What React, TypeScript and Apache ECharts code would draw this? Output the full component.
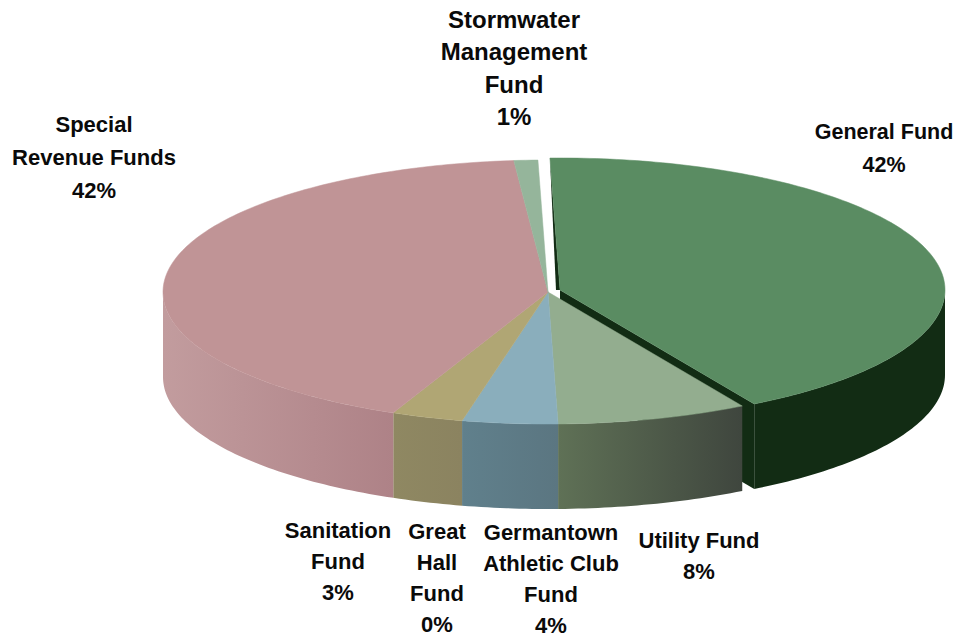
import React, { useEffect, useRef } from "react";
import * as echarts from "echarts";

// Budget share of each fund, clockwise from twelve o'clock.
const fundNames = [
  "General Fund",
  "Utility Fund",
  "Germantown Athletic Club Fund",
  "Sanitation Fund",
  "Great Hall Fund",
  "Special Revenue Funds",
  "Stormwater Management Fund",
];
const fundShares = [42, 8, 4, 3, 0, 42, 1];
const labelLines = [
  ["General Fund"],
  ["Utility Fund"],
  ["Germantown", "Athletic Club", "Fund"],
  ["Sanitation", "Fund"],
  ["Great", "Hall", "Fund"],
  ["Special", "Revenue Funds"],
  ["Stormwater", "Management", "Fund"],
];
const topColors = ["#5a8c62", "#93ad8f", "#8aaebc", "#b0a674", "#b0a674", "#c09496", "#95b59b"];
const wallFrom = ["#122c14", "#5f7156", "#60808c", "#8f8862", "#8f8862", "#c29c9e", "#95b59b"];
const wallTo = ["#122c14", "#3f463e", "#5b7681", "#8b8360", "#8b8360", "#ae8287", "#95b59b"];
// Centre of each label block, its line step and its font size.
const labelLayout = [
  [884, 148, 33, 21.5],
  [699, 556, 31, 22],
  [551, 579, 31, 22],
  [338, 561, 31, 22],
  [437, 578, 31, 22],
  [94, 157, 33, 22],
  [514, 68, 32.5, 24],
];

const CX = 548;
const CY = 292;
const RX = 385;
const RY = 132;
const DEPTH = 85;
const START_ANGLE = -1.5;
const EXPLODE_X = 12;
const EXPLODE_Y = -2;

const rim = (deg: number, ox: number, oy: number): number[] => {
  const t = (deg * Math.PI) / 180;
  return [CX + ox + RX * Math.sin(t), CY + oy - RY * Math.cos(t)];
};

const arc = (from: number, to: number, ox: number, oy: number): number[][] => {
  const steps = Math.max(2, Math.ceil(Math.abs(to - from)));
  const pts: number[][] = [];
  for (let i = 0; i <= steps; i++) pts.push(rim(from + ((to - from) * i) / steps, ox, oy));
  return pts;
};

const rows = fundShares.map((share, i) => [
  fundShares.slice(0, i).reduce((a, b) => a + b, 0),
  share,
]);

const renderSlice = (params: any, api: any) => {
  const i = params.dataIndex;
  const startDeg = START_ANGLE + (api.value(0) * 360) / 100;
  const endDeg = startDeg + (api.value(1) * 360) / 100;
  const ox = i === 0 ? EXPLODE_X : 0;
  const oy = i === 0 ? EXPLODE_Y : 0;
  const children: any[] = [];

  if (api.value(1) > 0) {
    // The visible side wall is the front half of the rim.
    const a = Math.max(startDeg, 90);
    const b = Math.min(endDeg, 270);
    if (b > a) {
      const front = arc(a, b, ox, oy);
      const back = front.map((p) => [p[0], p[1] + DEPTH]).reverse();
      const xs = front.map((p) => p[0]);
      children.push({
        type: "polygon",
        shape: { points: [...front, ...back] },
        style: {
          fill: new echarts.graphic.LinearGradient(
            Math.min(...xs), 0, Math.max(...xs), 0,
            [
              { offset: 0, color: wallFrom[i] },
              { offset: 1, color: wallTo[i] },
            ],
            true,
          ),
        },
      });
    }
    if (i === 0) {
      // The pulled-out slice shows its dark cut faces.
      const tip = [CX + ox, CY + oy];
      const end = rim(endDeg, ox, oy);
      const begin = rim(startDeg, ox, oy);
      children.push({
        type: "polygon",
        shape: {
          points: [tip, end, [end[0], end[1] + DEPTH], [tip[0], tip[1] + DEPTH]],
        },
        style: { fill: wallFrom[i] },
      });
      children.push({
        type: "polygon",
        shape: { points: [begin, tip, [tip[0] - 4, tip[1]]] },
        style: { fill: wallFrom[i] },
      });
    }
    children.push({
      type: "polygon",
      shape: { points: [[CX + ox, CY + oy], ...arc(startDeg, endDeg, ox, oy)] },
      style: { fill: topColors[i], stroke: topColors[i], lineWidth: 0.5 },
    });
  }

  const [lx, ly, step, size] = labelLayout[i];
  children.push({
    type: "text",
    z2: 10,
    style: {
      text: [...labelLines[i], `${api.value(1)}%`].join("\n"),
      x: lx,
      y: ly,
      font: `bold ${size}px "Liberation Sans"`,
      lineHeight: step,
      align: "center",
      verticalAlign: "middle",
      fill: "#0a0a0a",
    },
  });
  return { type: "group", children };
};

export default function App() {
  const ref = useRef<HTMLDivElement>(null);
  useEffect(() => {
    const chart = echarts.init(ref.current, undefined, { renderer: "svg" });
    chart.setOption({
      animation: false,
      backgroundColor: "#ffffff",
      series: [
        {
          type: "custom",
          name: "Funds",
          coordinateSystem: "none",
          silent: true,
          renderItem: renderSlice,
          data: rows.map((r, i) => ({ name: fundNames[i], value: r })),
        },
      ],
    });
    return () => chart.dispose();
  }, []);
  return (
    <div
      ref={ref}
      style={{ position: "absolute", left: 0, top: 0, width: 956, height: 637 }}
    />
  );
}
